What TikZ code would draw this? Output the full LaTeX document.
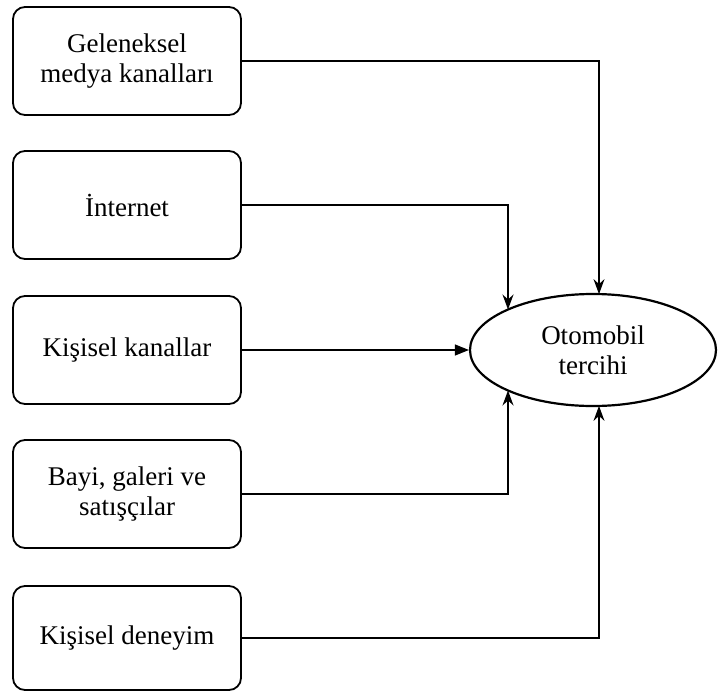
\documentclass[tikz,border=0pt]{standalone}
\usepackage{fontspec}
\setmainfont{Liberation Serif}
\usetikzlibrary{shapes.geometric,arrows.meta}
\tikzset{
	kanal/.style={draw,line width=1.8pt,rounded corners=12pt,minimum width=228pt,minimum height=108pt,align=center,font=\fontsize{27}{30}\selectfont},
	tercih/.style={draw,ellipse,line width=2.2pt,minimum width=246pt,minimum height=112pt,inner sep=0pt,align=center,font=\fontsize{27}{30}\selectfont},
	okA/.style={line width=1.3pt,-{Stealth[length=15pt,width=11pt,inset=5pt]}},
	okB/.style={line width=1.3pt,-{Triangle[length=14pt,width=11pt]}}
}
\begin{document}
\begin{tikzpicture}[x=1pt,y=-1pt]
					\useasboundingbox (0,0) rectangle (718,693);
					\node[kanal] (gel) at (127,61){Geleneksel\\medya kanalları};
					\node[kanal] (int) at (127,205){İnternet};
					\node[kanal] (kis) at (127,350){Kişisel kanallar};
					\node[kanal] (bay) at (127,494){Bayi, galeri ve\\satışçılar};
					\node[kanal,minimum height=104pt] (den) at (127,638){Kişisel deneyim};
					
					\node[tercih] (oto) at (593,350){Otomobil\\tercihi};
					
					% ellipse border points
					\coordinate (ust1) at (599,294.1);
					\coordinate (ust2) at (508,309.5);
					\coordinate (alt2) at (508,390.5);
					\coordinate (alt1) at (599,405.9);
					
					\draw[okA](gel.east)-|(ust1);
					\draw[okA](int.east)-|(ust2);
					\draw[okB](kis.east)--(oto.west);
					\draw[okA](bay.east)-|(alt2);
					\draw[okA](den.east)-|(alt1);
				\end{tikzpicture}
\end{document}
